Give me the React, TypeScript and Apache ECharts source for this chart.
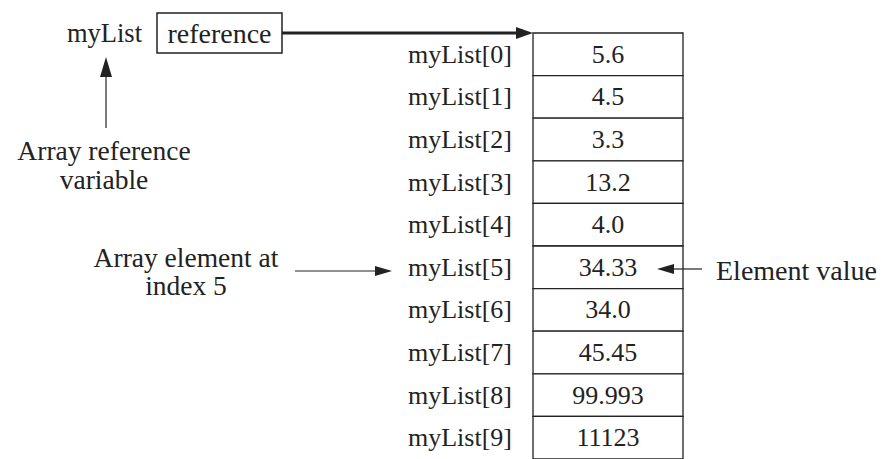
import React, { useEffect, useRef } from "react";
import * as echarts from "echarts";

const rowLabels = [
  "myList[0]", "myList[1]", "myList[2]", "myList[3]", "myList[4]",
  "myList[5]", "myList[6]", "myList[7]", "myList[8]", "myList[9]",
];
const cellValues = ["5.6", "4.5", "3.3", "13.2", "4.0", "34.33", "34.0", "45.45", "99.993", "11123"];
const varName = "myList";
const refText = "reference";
const noteRefVar = ["Array reference", "variable"];
const noteElement = ["Array element at", "index 5"];
const noteValue = "Element value";

const FONT = "Liberation Serif";
const INK = "#222";

export default function App() {
  const ref = useRef<HTMLDivElement>(null);
  useEffect(() => {
    if (!ref.current) return;
    const chart = echarts.init(ref.current, null, { renderer: "svg" });
    const txt = (text: string, x: number, y: number, align = "center", size = 27.5) => ({
      type: "text",
      z: 100,
      style: { text, x, y, align, verticalAlign: "middle", fontSize: size, fontFamily: FONT, fill: INK },
    });
    const arrowHead = (pts: number[][]) => ({
      type: "polygon",
      z: 100,
      shape: { points: pts },
      style: { fill: INK },
    });
    const line = (x1: number, y1: number, x2: number, y2: number, w: number) => ({
      type: "line",
      z: 100,
      shape: { x1, y1, x2, y2 },
      style: { stroke: INK, lineWidth: w },
    });
    chart.setOption({
      animation: false,
      backgroundColor: "#fff",
      grid: { left: 533, width: 150, top: 33, height: 430 },
      xAxis: { type: "value", min: 0, max: 1, show: false },
      yAxis: {
        type: "category",
        inverse: true,
        data: rowLabels,
        axisLine: { show: false },
        axisTick: { show: false },
        splitLine: { show: false },
        axisLabel: { fontSize: 26, fontFamily: FONT, color: INK, margin: 21 },
      },
      series: [
        {
          type: "custom",
          clip: false,
          data: cellValues.map((_, i) => [0, i]),
          encode: { x: 0, y: 1 },
          renderItem: (params: any, api: any) => {
            const idx = params.dataIndex;
            const p0 = api.coord([0, idx]);
            const p1 = api.coord([1, idx]);
            const h = api.size([0, 1])[1];
            return {
              type: "group",
              children: [
                {
                  type: "rect",
                  shape: { x: p0[0], y: p0[1] - h / 2, width: p1[0] - p0[0], height: h },
                  style: { fill: "#fff", stroke: INK, lineWidth: 1.3 },
                },
                {
                  type: "text",
                  style: {
                    text: cellValues[idx],
                    x: (p0[0] + p1[0]) / 2,
                    y: p0[1],
                    align: "center",
                    verticalAlign: "middle",
                    fontSize: 26,
                    fontFamily: FONT,
                    fill: INK,
                  },
                },
              ],
            };
          },
        },
      ],
      graphic: [
        txt(varName, 142, 33, "right", 26.5),
        {
          type: "rect",
          z: 100,
          shape: { x: 157, y: 13, width: 125, height: 40 },
          style: { fill: "#fff", stroke: INK, lineWidth: 1.5 },
        },
        txt(refText, 219.5, 33, "center", 28),
        line(282, 33, 520, 33, 3),
        arrowHead([[533, 33], [516, 27], [516, 39]]),
        line(106, 128, 106, 74, 1.2),
        arrowHead([[106, 57], [100, 77], [112, 77]]),
        txt(noteRefVar[0], 104, 150.75),
        txt(noteRefVar[1], 104, 179.25),
        txt(noteElement[0], 186, 257.25),
        txt(noteElement[1], 186, 285.75),
        line(295, 271, 378, 271, 1.2),
        arrowHead([[392, 271], [375, 266], [375, 276]]),
        line(671, 269, 702, 269, 1.2),
        arrowHead([[657, 269], [674, 264], [674, 274]]),
        txt(noteValue, 716, 270, "left", 28),
      ],
    });
    return () => chart.dispose();
  }, []);
  return (
    <div
      ref={ref}
      style={{ position: "fixed", left: 0, top: 0, width: 884, height: 459, background: "#fff" }}
    />
  );
}
